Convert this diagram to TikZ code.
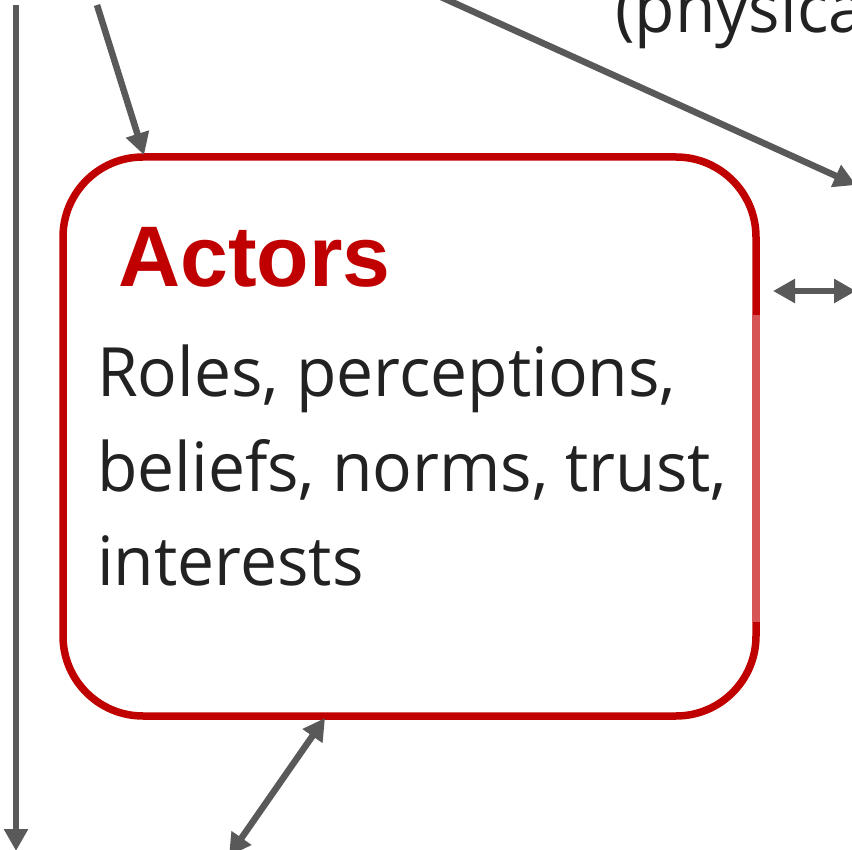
\documentclass[tikz,border=0pt]{standalone}
\usepackage{fontspec}
\setmainfont[FakeStretch=0.97]{Open Sans}
\newfontfamily\headfont{Liberation Sans}
\usetikzlibrary{arrows.meta}
\definecolor{arrowgray}{HTML}{595959}
\definecolor{actorred}{HTML}{C00000}
\definecolor{actorpale}{HTML}{D65454}
\definecolor{bodytext}{HTML}{222222}
\tikzset{
  link/.style={draw=arrowgray,line width=6.5pt,-{Triangle[length=22pt,width=23pt]}},
  twolink/.style={draw=arrowgray,line width=6.5pt,{Triangle[length=22pt,width=23pt]}-{Triangle[length=22pt,width=23pt]}},
  bodyline/.style={anchor=base west,inner sep=0pt,text=bodytext,font=\fontsize{68}{94}\selectfont}
}
\begin{document}
\begin{tikzpicture}[x=1pt,y=-1pt]
\useasboundingbox (0,0) rectangle (852,850);
% the actors box
\node [draw=actorred,line width=7.5pt,rounded corners=80pt,minimum width=693pt,minimum height=559pt,inner sep=0pt] (actors) at (409.5,436.5) {};
\draw [actorpale,line width=7.5pt] (756,315) -- (756,622);
\node [anchor=base west,inner sep=0pt,text=actorred,font=\headfont\bfseries\fontsize{86}{86}\selectfont] (title) at (118,287) {Actors};
\node [bodyline] (roles) at (97,396) {Roles, perceptions,};
\node [bodyline] (beliefs) at (97,491) {beliefs, norms, trust,};
\node [bodyline] (interests) at (97,585) {interests};
\node [bodyline] (physical) at (615,33) {(physica};
% connectors
\coordinate (leftTop) at (16,5);
\coordinate (leftEnd) at (16,851);
\coordinate (topSrc) at (97,5);
\coordinate (topEnd) at (144,155);
\coordinate (diagSrc) at (430,-8);
\coordinate (diagEnd) at (856,185);
\coordinate (sideA) at (773,291);
\coordinate (sideB) at (856,291);
\coordinate (lowA) at (325,718);
\coordinate (lowB) at (229,856);
\draw [link] (leftTop) -- (leftEnd);
\draw [link] (topSrc) -- (topEnd);
\draw [link] (diagSrc) -- (diagEnd);
\draw [twolink] (sideA) -- (sideB);
\draw [twolink] (lowA) -- (lowB);
\end{tikzpicture}
\end{document}
